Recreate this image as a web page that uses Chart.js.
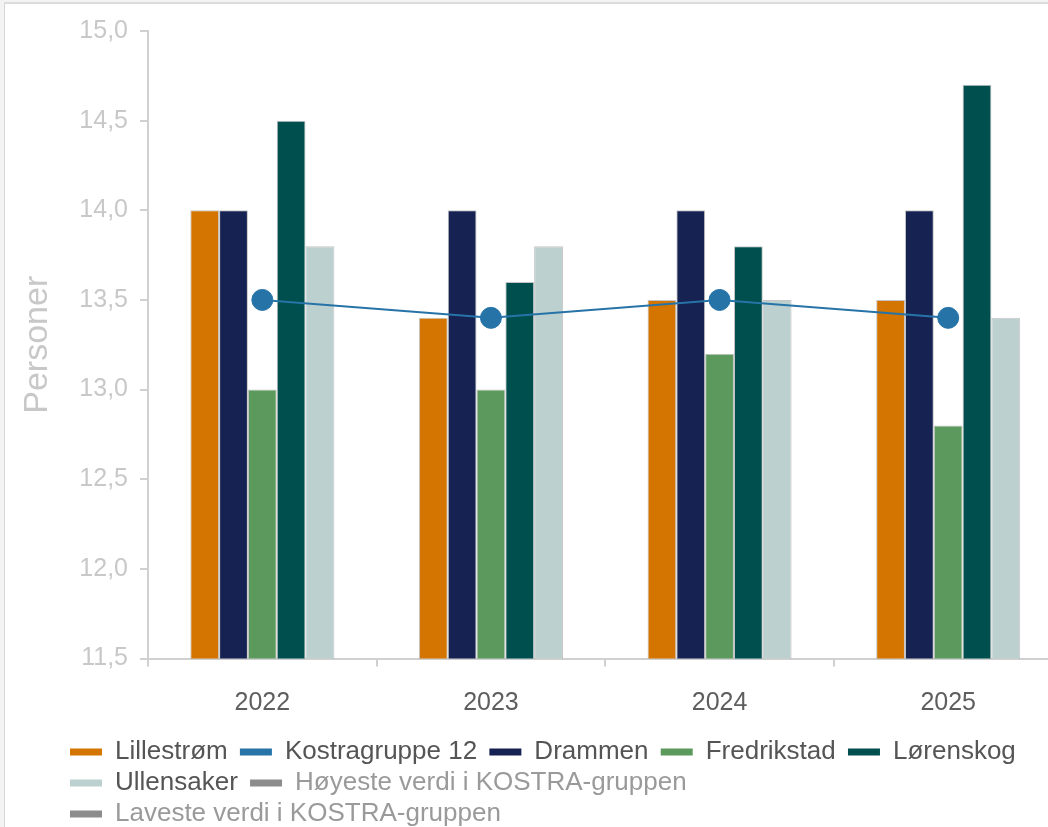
<!DOCTYPE html>
<html lang="no">
<head>
<meta charset="utf-8">
<title>Personer</title>
<script src="https://cdn.jsdelivr.net/npm/chart.js@4.4.1/dist/chart.umd.min.js"></script>
<style>
    html, body {
        margin: 0;
        padding: 0;
        background: #f3f3f3;
        overflow: hidden;
    }
    .ramme {
        position: absolute;
        left: 4px;
        top: 2px;
        width: 1100px;
        height: 900px;
        background: #ffffff;
        border-left: 1px solid #d6d6d6;
        border-top: 2px solid #dcdcdc;
    }
</style>
</head>
<body>
<div class="ramme">
    <canvas id="grafPersoner" width="1069" height="833"></canvas>
</div>
<script>
// Kategorier (år)
const aar = ['2022', '2023', '2024', '2025'];

// Verdier per kommune
const lillestrom = [14.0, 13.4, 13.5, 13.5];
const kostragruppe12 = [13.5, 13.4, 13.5, 13.4];
const drammen = [14.0, 14.0, 14.0, 14.0];
const fredrikstad = [13.0, 13.0, 13.2, 12.8];
const lorenskog = [14.5, 13.6, 13.8, 14.7];
const ullensaker = [13.8, 13.8, 13.5, 13.4];

// Akse
const yMin = 11.5;
const yMax = 15.0;
const yStep = 0.5;

const fontFamily = '"Liberation Sans", Arial, sans-serif';
const kantFarge = 'rgba(90, 90, 90, 0.35)';

/**
 * Lager et stolpe-datasett
 */
function lagStolpe(navn, data, farge) {
    return {
        type: 'bar',
        label: navn,
        data: data,
        backgroundColor: farge,
        borderColor: kantFarge,
        borderWidth: 1,
        order: 1
    };
}

// Flytter forklaringen litt inn fra venstre
const forklaringPlassering = {
    id: 'forklaringPlassering',
    afterLayout(chart) {
        if (chart.legend) {
            chart.legend.left = 60;
        }
    }
};

const canvas = document.getElementById('grafPersoner');

new Chart(canvas, {
    data: {
        labels: aar,
        datasets: [
            lagStolpe('Lillestrøm', lillestrom, '#d37500'),
            {
                type: 'line',
                label: 'Kostragruppe 12',
                data: kostragruppe12,
                borderColor: '#2673a8',
                backgroundColor: '#2673a8',
                borderWidth: 2,
                pointRadius: 10.5,
                pointBackgroundColor: '#2673a8',
                pointBorderColor: '#2673a8',
                pointBorderWidth: 1,
                tension: 0,
                order: 0
            },
            lagStolpe('Drammen', drammen, '#162352'),
            lagStolpe('Fredrikstad', fredrikstad, '#5c995c'),
            lagStolpe('Lørenskog', lorenskog, '#004f4f'),
            lagStolpe('Ullensaker', ullensaker, '#bcd0cf'),
            {
                type: 'line',
                label: 'Høyeste verdi i KOSTRA-gruppen',
                data: [],
                borderColor: '#8c8c8c',
                backgroundColor: '#8c8c8c',
                order: 2
            },
            {
                type: 'line',
                label: 'Laveste verdi i KOSTRA-gruppen',
                data: [],
                borderColor: '#8c8c8c',
                backgroundColor: '#8c8c8c',
                order: 2
            }
        ]
    },
    options: {
        responsive: false,
        animation: false,
        layout: {
            padding: { left: 16, top: 27, right: 10, bottom: 0 }
        },
        datasets: {
            bar: {
                categoryPercentage: 0.63,
                barPercentage: 1.0
            }
        },
        scales: {
            x: {
                offset: true,
                grid: {
                    display: true,
                    drawOnChartArea: false,
                    drawTicks: true,
                    tickLength: 8,
                    offset: true,
                    color: '#d0d0d0',
                    lineWidth: 2
                },
                border: { color: '#d0d0d0', width: 2 },
                ticks: {
                    color: '#5e5e5e',
                    padding: 22,
                    font: { family: fontFamily, size: 25 }
                },
                afterFit(scale) {
                    scale.height = 75.5;
                }
            },
            y: {
                min: yMin,
                max: yMax,
                grid: {
                    display: true,
                    drawOnChartArea: false,
                    drawTicks: true,
                    tickLength: 8,
                    color: '#d0d0d0',
                    lineWidth: 2
                },
                border: { color: '#d0d0d0', width: 2 },
                ticks: {
                    stepSize: yStep,
                    color: '#c8c8c8',
                    padding: 12,
                    font: { family: fontFamily, size: 25 },
                    callback: (v) => v.toFixed(1).replace('.', ',')
                },
                title: {
                    display: true,
                    text: 'Personer',
                    color: '#c8c8c8',
                    padding: { top: 0, bottom: 0 },
                    font: { family: fontFamily, size: 34, lineHeight: 1 }
                },
                afterFit(scale) {
                    scale.width = 127;
                }
            }
        },
        plugins: {
            legend: {
                position: 'bottom',
                align: 'start',
                labels: {
                    boxWidth: 32,
                    boxHeight: 7,
                    padding: 5,
                    font: { family: fontFamily, size: 26 },
                    sort: (a, b) => a.datasetIndex - b.datasetIndex,
                    generateLabels(chart) {
                        const items = Chart.defaults.plugins.legend.labels.generateLabels(chart);
                        return items.map(item => {
                            const gra = item.text.indexOf('KOSTRA-gruppen') !== -1;
                            item.text = item.text + ' ';
                            item.lineWidth = 0;
                            item.strokeStyle = 'rgba(0,0,0,0)';
                            item.fontColor = gra ? '#9a9a9a' : '#555555';
                            return item;
                        });
                    }
                }
            },
            tooltip: { enabled: false }
        }
    },
    plugins: [forklaringPlassering]
});
</script>
</body>
</html>
